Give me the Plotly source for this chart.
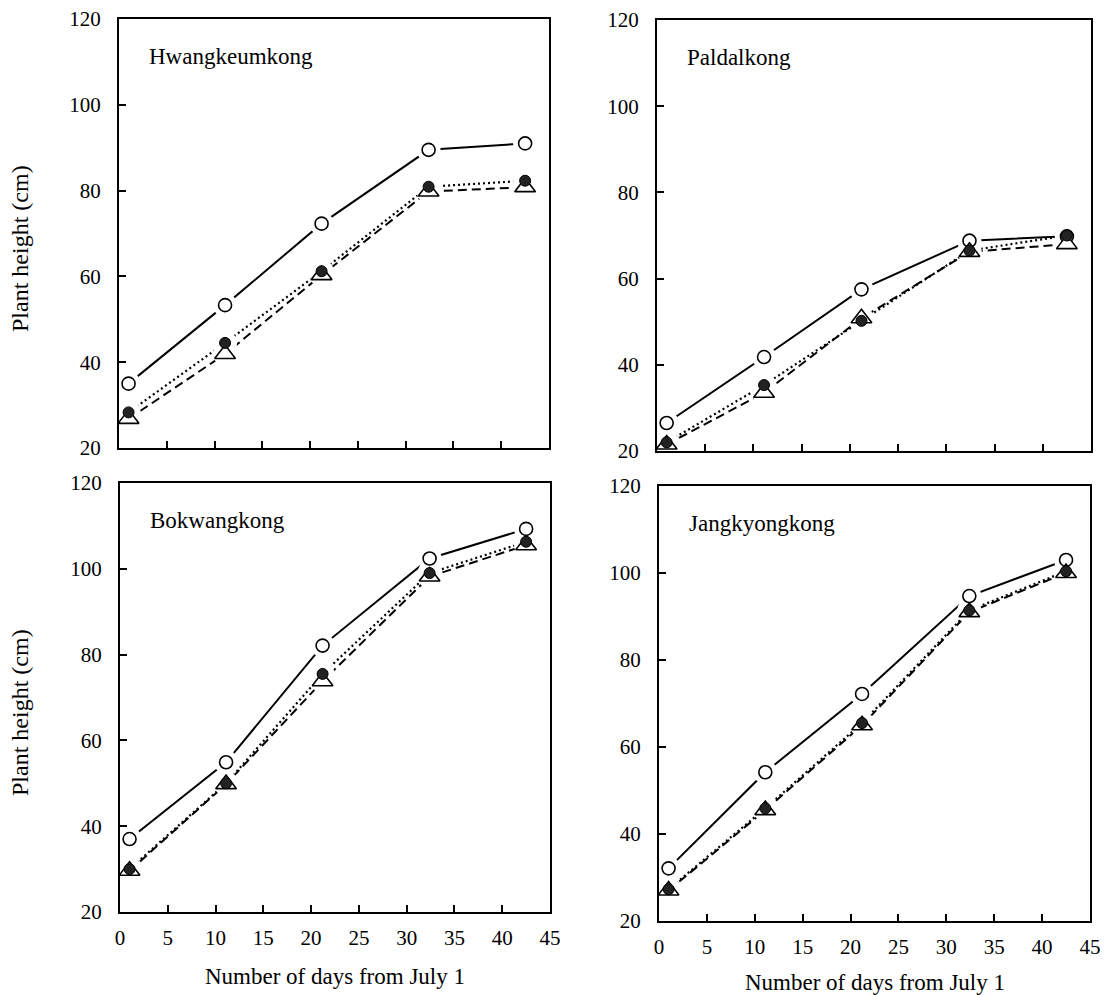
import plotly.graph_objects as go

# ---------------- data ----------------
days = [1, 11.1, 21.2, 32.4, 42.5]

cultivars = ["Hwangkeumkong", "Paldalkong", "Bokwangkong", "Jangkyongkong"]

open_circle = {
    "Hwangkeumkong": [35.0, 53.3, 72.3, 89.5, 91.0],
    "Paldalkong": [26.5, 41.8, 57.5, 68.8, 69.8],
    "Bokwangkong": [37.0, 54.9, 82.1, 102.4, 109.3],
    "Jangkyongkong": [32.1, 54.2, 72.2, 94.7, 103.0],
}
filled_circle = {
    "Hwangkeumkong": [28.3, 44.5, 61.2, 80.9, 82.3],
    "Paldalkong": [22.0, 35.3, 50.2, 66.5, 70.0],
    "Bokwangkong": [30.0, 50.0, 75.5, 99.0, 106.3],
    "Jangkyongkong": [27.3, 45.9, 65.5, 91.4, 100.4],
}
open_triangle = {
    "Hwangkeumkong": [26.8, 41.9, 60.3, 79.8, 80.8],
    "Paldalkong": [21.5, 33.5, 50.8, 66.2, 68.0],
    "Bokwangkong": [29.6, 49.8, 73.8, 98.2, 105.5],
    "Jangkyongkong": [27.0, 45.5, 65.0, 91.0, 100.0],
}

x_ticks = [0, 5, 10, 15, 20, 25, 30, 35, 40, 45]
y_ticks = [20, 40, 60, 80, 100, 120]
x_title = "Number of days from July 1"
y_title = "Plant height (cm)"

# ---------------- layout geometry ----------------
W, H = 1107, 995
FONT = "Liberation Serif"

# pixel boxes (left, right, top, bottom)
boxes = [
    (119, 549, 19, 448),
    (657, 1091, 20, 451),
    (120, 550, 483, 912),
    (659, 1090, 486, 921),
]

series_styles = [
    # (data, line dash, line width, marker symbol, size, fill, outline width)
    (open_circle, "solid", 2.0, "circle", 13, "white", 1.6),
    (open_triangle, "9px,5px", 2.0, "triangle-up", 18, "white", 1.6),
    (filled_circle, "2px,3px", 2.2, "circle", 11, "#222222", 1.0),
]

fig = go.Figure()

for i, name in enumerate(cultivars):
    ax = "" if i == 0 else str(i + 1)
    xref, yref = "x" + ax, "y" + ax
    # 1) lines
    for data, dash, lw, sym, sz, fill, ow in series_styles:
        fig.add_trace(go.Scatter(
            x=days, y=data[name], xaxis=xref, yaxis=yref, mode="lines",
            line=dict(color="black", width=lw, dash=dash),
            hoverinfo="skip", showlegend=False))
    # 2) white halos so the lines stop short of the symbols
    for data, dash, lw, sym, sz, fill, ow in series_styles:
        fig.add_trace(go.Scatter(
            x=days, y=data[name], xaxis=xref, yaxis=yref, mode="markers",
            marker=dict(symbol="circle", size=24, color="white",
                        line=dict(width=0)),
            hoverinfo="skip", showlegend=False))
    # 3) symbols
    for data, dash, lw, sym, sz, fill, ow in series_styles:
        fig.add_trace(go.Scatter(
            x=days, y=data[name], xaxis=xref, yaxis=yref, mode="markers",
            marker=dict(symbol=sym, size=sz, color=fill,
                        line=dict(color="black", width=ow)),
            showlegend=False))

layout = dict(
    width=W, height=H, autosize=False,
    margin=dict(l=0, r=0, t=0, b=0, pad=0, autoexpand=False),
    paper_bgcolor="white", plot_bgcolor="white",
    font=dict(family=FONT, color="black", size=21),
    showlegend=False,
)

annotations = []
for i, (l, r, t, b) in enumerate(boxes):
    ax = "" if i == 0 else str(i + 1)
    bottom_row = i >= 2
    layout["xaxis" + ax] = dict(
        domain=[l / W, r / W], range=[0, 45], anchor="y" + ax,
        automargin=False,
        tickvals=x_ticks, ticktext=[str(v) for v in x_ticks],
        showticklabels=bottom_row,
        ticks="inside", ticklen=7, tickwidth=2, tickcolor="black",
        showline=True, linecolor="black", linewidth=2, mirror=True,
        showgrid=False, zeroline=False, layer="above traces",
        tickfont=dict(family=FONT, size=21, color="black"),
        ticklabelstandoff=6,
    )
    layout["yaxis" + ax] = dict(
        domain=[1 - b / H, 1 - t / H], range=[20, 120], anchor="x" + ax,
        automargin=False,
        tickvals=y_ticks, ticktext=[str(v) for v in y_ticks],
        ticks="inside", ticklen=7, tickwidth=2, tickcolor="black",
        showline=True, linecolor="black", linewidth=2, mirror=True,
        showgrid=False, zeroline=False, layer="above traces",
        tickfont=dict(family=FONT, size=21, color="black"),
        ticklabelstandoff=12,
    )
    # cultivar label
    annotations.append(dict(
        x=2.9, y=111.3, xref="x" + ax, yref="y" + ax,
        text=cultivars[i], showarrow=False, xanchor="left", yanchor="middle",
        font=dict(family=FONT, size=23, color="black")))
    if bottom_row:
        annotations.append(dict(
            x=(l + r) / 2 / W, y=1 - (976 + (i - 2) * 6) / H,
            xref="paper", yref="paper", text=x_title, showarrow=False,
            xanchor="center", yanchor="middle",
            font=dict(family=FONT, size=23, color="black")))
    if i % 2 == 0:
        cy = 249 if i == 0 else 713
        annotations.append(dict(
            x=20 / W, y=1 - cy / H, xref="paper", yref="paper",
            text=y_title, showarrow=False, textangle=-90,
            xanchor="center", yanchor="middle",
            font=dict(family=FONT, size=24, color="black")))

layout["annotations"] = annotations
fig.update_layout(**layout)

fig.write_html("out.html")
